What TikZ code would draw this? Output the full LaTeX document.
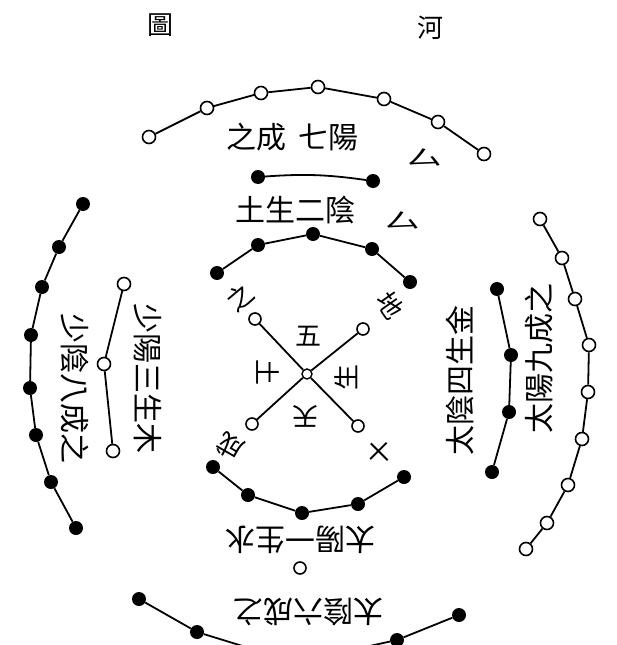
\documentclass[tikz,border=0pt]{standalone}
\usepackage{fontspec}
\newfontfamily\cjk{Noto Sans CJK TC}
\usetikzlibrary{positioning,calc}

\begin{document}
\begin{tikzpicture}[x=1pt,y=-1pt,
    yang/.style={circle,draw,line width=1.6pt,fill=white,inner sep=0pt,minimum size=13pt},
    yin/.style={circle,fill=black,inner sep=0pt,minimum size=14pt},
    link/.style={line width=1.8pt},
    lbl/.style={font=\cjk\fontsize{30}{30}\selectfont,inner sep=0pt},
    sm/.style={font=\cjk\fontsize{26}{26}\selectfont,inner sep=0pt}]
    \useasboundingbox (0,0) rectangle (616,645);
    \clip (0,0) rectangle (616,645);

    % title
    \node[sm] (hetu1) at (160,25) {圖};
    \node[sm] (hetu2) at (430,28) {河};

    % seven, top outer
    \foreach \p [count=\i] in {(149,137),(207,108),(261,93),(318,87),(384,99),(438,122),(484,154)}
        \node[yang] (s\i) at \p {};
    \foreach \i [count=\j from 2] in {1,...,6}
        \draw[link] (s\i) -- (s\j);
    \node[lbl] (t7) at (292,137) {之成\hspace{12pt}七陽};
    \node[sm,xscale=1.4,yscale=0.8] (t7a) at (425,157) {厶};

    % two, top inner
    \node[yin] (w1) at (258,177) {};
    \node[yin] (w2) at (373,181) {};
    \draw[link] (w1) to[bend left=6] (w2);
    \node[lbl] (t2) at (295,210) {土生二陰};
    \node[sm,xscale=1.4,yscale=0.8] (t2a) at (403,220) {厶};

    % ten, upper half
    \foreach \p [count=\i] in {(217,273),(258,245),(313,234),(372,249),(410,282)}
        \node[yin] (a\i) at \p {};
    \foreach \i [count=\j from 2] in {1,...,4}
        \draw[link] (a\i) -- (a\j);
    % ten, lower half
    \foreach \p [count=\i] in {(213,467),(248,495),(302,513),(358,504),(404,477)}
        \node[yin] (b\i) at \p {};
    \foreach \i [count=\j from 2] in {1,...,4}
        \draw[link] (b\i) -- (b\j);

    % five, centre
    \node[circle,draw,line width=1.4pt,fill=white,inner sep=0pt,minimum size=10pt] (c0) at (307,374) {};
    \foreach \p [count=\i] in {(255,319),(363,329),(252,424),(358,426)}
        \node[yang,minimum size=12pt] (c\i) at \p {};
    \foreach \i in {1,...,4}
        \draw[link] (c0) -- (c\i);
    \node[sm] (f1) at (308,336) {五};
    \node[sm,rotate=-90] (f2) at (268,372) {土};
    \node[sm,rotate=90] (f3) at (346,377) {生};
    \node[sm,rotate=180] (f4) at (305,416) {天};
    \node[sm,rotate=40] (d1) at (240,297) {之};
    \node[sm,rotate=-55] (d2) at (390,305) {地};
    \node[sm,rotate=150] (d3) at (230,446) {成};
    \node[sm,rotate=45] (d4) at (380,452) {十};

    % eight, left outer
    \foreach \p [count=\i] in {(83,204),(59,247),(42,287),(31,335),(30,388),(36,435),(51,482),(76,528)}
        \node[yin] (e\i) at \p {};
    \foreach \i [count=\j from 2] in {1,...,7}
        \draw[link] (e\i) -- (e\j);
    \node[lbl,rotate=-90] (t8) at (75,388) {少陰八成之};

    % three, left inner
    \node[yang] (h1) at (124,284) {};
    \node[yang] (h2) at (104,364) {};
    \node[yang] (h3) at (113,451) {};
    \draw[link] (h1) -- (h2);
    \draw[link] (h2) -- (h3);
    \node[lbl,rotate=-90] (t3) at (148,378) {少陽三生木};

    % nine, right outer
    \foreach \p [count=\i] in {(540,219),(562,258),(575,299),(589,345),(588,392),(582,439),(568,485),(547,523),(526,549)}
        \node[yang] (n\i) at \p {};
    \foreach \i [count=\j from 2] in {1,...,8}
        \draw[link] (n\i) -- (n\j);
    \node[lbl,rotate=90] (t9) at (539,358) {太陽九成之};

    % four, right inner
    \foreach \p [count=\i] in {(497,289),(511,355),(509,412),(492,472)}
        \node[yin] (r\i) at \p {};
    \foreach \i [count=\j from 2] in {1,...,3}
        \draw[link] (r\i) -- (r\j);
    \node[lbl,rotate=90] (t4) at (460,380) {太陰四生金};

    % one, bottom inner
    \node[lbl,rotate=180] (t1) at (300,540) {太陽一生水};
    \node[yang,minimum size=12pt] (o1) at (300,568) {};

    % six, bottom outer
    \foreach \p [count=\i] in {(139,599),(197,632),(262,652),(333,654),(397,640),(459,615)}
        \node[yin] (x\i) at \p {};
    \foreach \i [count=\j from 2] in {1,...,5}
        \draw[link] (x\i) -- (x\j);
    \node[lbl,rotate=180] (t6) at (308,612) {太陰六成之};
\end{tikzpicture}
\end{document}
